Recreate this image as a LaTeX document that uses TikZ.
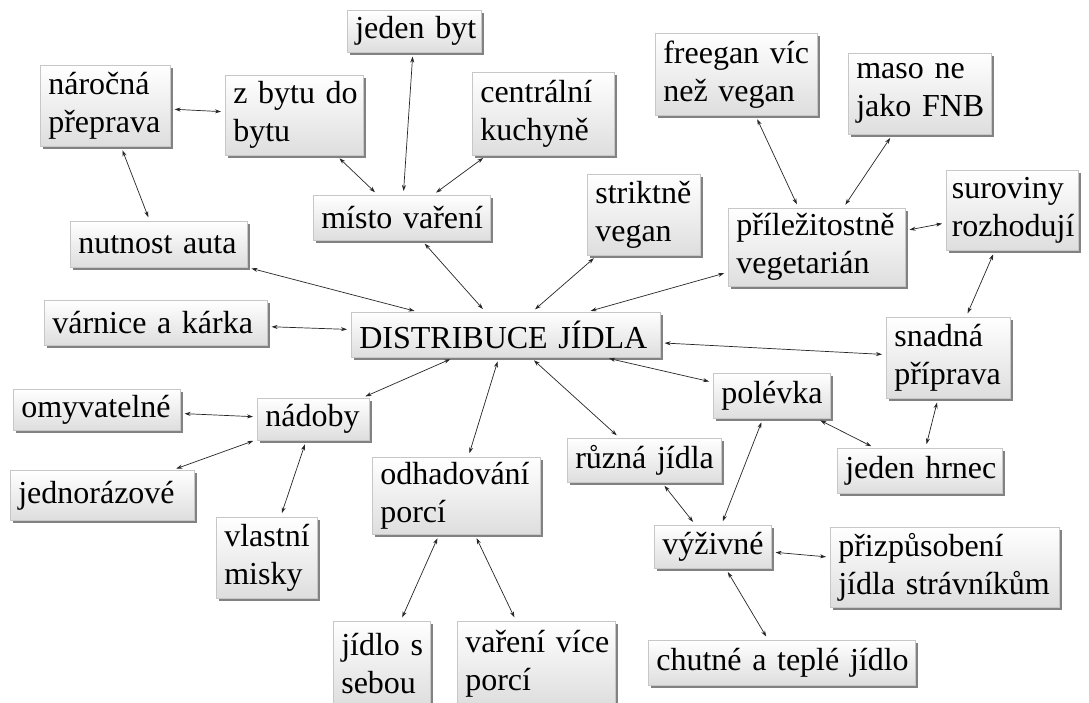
\documentclass[tikz,border=0pt]{standalone}
\usepackage{fontspec}
\setmainfont{Liberation Serif}
\usetikzlibrary{arrows.meta,shadows}
\tikzset{
  box/.style={draw=black!22, line width=0.6pt, top color=white, bottom color=black!13,
    drop shadow={shadow xshift=2.5pt, shadow yshift=-2.5pt, fill=black!65, opacity=0.75},
    anchor=north west, align=left, inner xsep=8pt, inner ysep=0pt,
    font=\fontsize{32}{38}\selectfont},
  conn/.style={{Stealth[length=6pt,width=4pt]}-{Stealth[length=6pt,width=4pt]},
    line width=0.7pt, black!85, shorten >=4pt, shorten <=4pt},
}
\begin{document}
\begin{tikzpicture}[x=1pt,y=-1pt]
\useasboundingbox (0,0) rectangle (1089,702);
\clip (0,0) rectangle (1089,702);
\fill[white] (0,0) rectangle (1089,702);

\node[box,text width=118pt,minimum height=42pt] (jedenbyt) at (347,10) {jeden~byt};
\node[box,text width=114pt,minimum height=81pt] (narocna) at (40,65) {náročná\\přeprava};
\node[box,text width=122pt,minimum height=80pt] (zbytu) at (225,75) {z~bytu~do\\bytu};
\node[box,text width=126pt,minimum height=83pt] (centralni) at (472,72) {centrální\\kuchyně};
\node[box,text width=146pt,minimum height=82pt] (freegan) at (655,33) {freegan~víc\\než~vegan};
\node[box,text width=127pt,minimum height=81pt] (maso) at (848,53) {maso~ne\\jako~FNB};
\node[box,text width=121pt,minimum height=80pt,inner xsep=5.5pt] (suroviny) at (946,170) {suroviny\\rozhodují};
\node[box,text width=161pt,minimum height=78pt] (prilezitostne) at (728,208) {příležitostně\\vegetarián};
\node[box,text width=97pt,minimum height=81pt] (striktne) at (587,174) {striktně\\vegan};
\node[box,text width=161pt,minimum height=45pt] (misto) at (313,195) {místo~vaření};
\node[box,text width=161pt,minimum height=46pt] (nutnost) at (70,221) {nutnost~auta};
\node[box,text width=207pt,minimum height=45pt] (varnice) at (44,300) {várnice~a~kárka};
\node[box,text width=293pt,minimum height=45pt] (distribuce) at (351,312) {DISTRIBUCE~JÍDLA};
\node[box,text width=108pt,minimum height=81pt] (snadna) at (886,317) {snadná\\příprava};
\node[box,text width=101pt,minimum height=45pt] (polevka) at (713,373) {polévka};
\node[box,text width=151pt,minimum height=41pt] (omyvatelne) at (13,389) {omyvatelné};
\node[box,text width=96pt,minimum height=42pt] (nadoby) at (257,398) {nádoby};
\node[box,text width=168pt,minimum height=50pt] (jednorazove) at (10,470) {jednorázové};
\node[box,text width=85pt,minimum height=81pt] (vlastni) at (216,517) {vlastní\\misky};
\node[box,text width=152pt,minimum height=77pt] (odhadovani) at (372,457) {odhadování\\porcí};
\node[box,text width=81pt,minimum height=84pt] (jidlo) at (333,621) {jídlo~s\\sebou};
\node[box,text width=142pt,minimum height=84pt] (vareni) at (457,621) {vaření~více\\porcí};
\node[box,text width=138pt,minimum height=44pt] (ruzna) at (567,438) {různá~jídla};
\node[box,text width=149pt,minimum height=45pt] (jedenhrnec) at (837,448) {jeden~hrnec};
\node[box,text width=101pt,minimum height=43pt] (vyzivne) at (654,525) {výživné};
\node[box,text width=213pt,minimum height=80pt] (prizpusobeni) at (830,527) {přizpůsobení\\jídla~strávníkům};
\node[box,text width=251pt,minimum height=45pt] (chutne) at (648,640) {chutné~a~teplé~jídlo};

\draw[conn] (narocna) -- (zbytu);
\draw[conn] (narocna) -- (nutnost);
\draw[conn] (zbytu) -- (misto);
\draw[conn] (jedenbyt) -- (misto);
\draw[conn] (centralni) -- (misto);
\draw[conn] (misto) -- (distribuce);
\draw[conn] (nutnost) -- (distribuce);
\draw[conn] (varnice) -- (distribuce);
\draw[conn] (striktne) -- (distribuce);
\draw[conn] (prilezitostne) -- (distribuce);
\draw[conn] (freegan) -- (prilezitostne);
\draw[conn] (maso) -- (prilezitostne);
\draw[conn] (prilezitostne) -- (suroviny);
\draw[conn] (suroviny) -- (snadna);
\draw[conn] (distribuce) -- (snadna);
\draw[conn] (distribuce) -- (polevka);
\draw[conn] (distribuce) -- (ruzna);
\draw[conn] (distribuce) -- (odhadovani);
\draw[conn] (distribuce) -- (nadoby);
\draw[conn] (nadoby) -- (omyvatelne);
\draw[conn] (nadoby) -- (jednorazove);
\draw[conn] (nadoby) -- (vlastni);
\draw[conn] (odhadovani) -- (jidlo);
\draw[conn] (odhadovani) -- (vareni);
\draw[conn] (polevka) -- (vyzivne);
\draw[conn] (ruzna) -- (vyzivne);
\draw[conn] (polevka) -- (jedenhrnec);
\draw[conn] (snadna) -- (jedenhrnec);
\draw[conn] (vyzivne) -- (prizpusobeni);
\draw[conn] (vyzivne) -- (chutne);
\end{tikzpicture}
\end{document}
